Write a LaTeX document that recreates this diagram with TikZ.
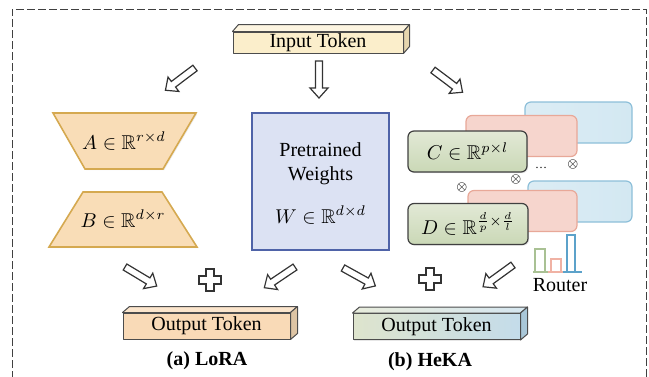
\documentclass[tikz,border=0pt]{standalone}
\usepackage{amsmath}
\usepackage{amssymb}
\usepackage{fontspec}
\setmainfont{Liberation Serif}
\usepackage{tikz}
\usetikzlibrary{calc, shadows}

\definecolor{tokCream}{HTML}{FBEECB}
\definecolor{tokCreamTop}{HTML}{FDF5E1}
\definecolor{tokCreamSide}{HTML}{E6D6AE}
\definecolor{tokPeach}{HTML}{F9DAB7}
\definecolor{tokPeachTop}{HTML}{FBE5CC}
\definecolor{tokPeachSide}{HTML}{DDC4A4}
\definecolor{mixGreen}{HTML}{DEE4CD}
\definecolor{mixPink}{HTML}{F4E1DA}
\definecolor{mixBlue}{HTML}{C4DCEA}
\definecolor{mixSide}{HTML}{A9C7D8}
\definecolor{loraFill}{HTML}{F9DDB7}
\definecolor{loraEdge}{HTML}{D5A950}
\definecolor{wFill}{HTML}{DCE2F3}
\definecolor{wEdge}{HTML}{4F63A8}
\definecolor{cardGreenT}{HTML}{E2E9D6}
\definecolor{cardGreenB}{HTML}{CAD8B6}
\definecolor{cardRed}{HTML}{F6D5CD}
\definecolor{cardRedD}{HTML}{E8A898}
\definecolor{cardBlue}{HTML}{D3E8F2}
\definecolor{cardBlueD}{HTML}{8DBFD9}
\definecolor{barGreen}{HTML}{A9C194}
\definecolor{barPink}{HTML}{F0B2A4}
\definecolor{barBlue}{HTML}{5CA2CA}

\newcommand{\slabFaces}[4]{%
  \draw[tokEdge, #3] (#1.north west) -- ++(#2) -- ($(#1.north east)+(#2)$) -- (#1.north east) -- cycle;
  \draw[tokEdge, #4] (#1.north east) -- ++(#2) -- ($(#1.south east)+(#2)$) -- (#1.south east) -- cycle;}

\tikzset{
  tokEdge/.style={draw=black!70, line width=0.5pt, line join=round},
  tokFront/.style={tokEdge, inner sep=0pt, drop shadow={opacity=0.2, shadow xshift=0.6pt, shadow yshift=-0.6pt}},
  card/.style={draw, rounded corners=3pt, minimum height=20.5pt, inner sep=0pt, line width=0.6pt},
  greenCard/.style={card, draw=black!75, top color=cardGreenT, bottom color=cardGreenB, drop shadow={opacity=0.2, shadow xshift=0.6pt, shadow yshift=-0.6pt}},
  redCard/.style={card, draw=cardRedD, fill=cardRed},
  blueCard/.style={card, draw=cardBlueD, left color=cardBlue!80!white, right color=cardBlue},
  loraShape/.style={draw=loraEdge, fill=loraFill, line width=0.8pt, line join=miter, drop shadow={opacity=0.15, shadow xshift=0.6pt, shadow yshift=-0.6pt}},
  arrowLine/.style={draw=black!80, fill=white, line width=0.6pt, line join=miter},
  prodSym/.style={inner sep=0pt, font=\fontsize{6}{7}\selectfont},
  hollowArrow/.pic={\draw[arrowLine] (0,-3.5) -- (27,-3.5) -- (27,-9) -- (37,0) -- (27,9) -- (27,3.5) -- (0,3.5) -- cycle;},
  plusSign/.pic={\draw[arrowLine] (-4,-11) -- (4,-11) -- (4,-4) -- (11,-4) -- (11,4) -- (4,4) -- (4,11) -- (-4,11) -- (-4,4) -- (-11,4) -- (-11,-4) -- (-4,-4) -- cycle;},
}

\begin{document}
\begin{tikzpicture}[x=0.5pt, y=-0.5pt]
\useasboundingbox (0,0) rectangle (649,376);
\draw[black!75, line width=0.5pt, dash pattern=on 4pt off 1.5pt] (12,390) -- (12,9) -- (646,9) -- (646,390);

\node[tokFront, fill=tokCream, minimum width=85pt, minimum height=10.5pt] (inTok) at (318,42.5) {Input Token};
\slabFaces{inTok}{6,-7}{fill=tokCreamTop}{fill=tokCreamSide}

\pic[rotate=217] at (195,68) {hollowArrow};
\pic[rotate=-90] at (319,61) {hollowArrow};
\pic[rotate=-37] at (433,70) {hollowArrow};

\draw[loraShape] (53,113) -- (196,113) -- (163,169) -- (85,169) -- cycle;
\node (matA) at (124,141) {$A \in \mathbb{R}^{r \times d}$};
\draw[loraShape] (83,192) -- (162,192) -- (197,247) -- (49,247) -- cycle;
\node (matB) at (123,219) {$B \in \mathbb{R}^{d \times r}$};

\node[draw=wEdge, fill=wFill, line width=0.7pt, minimum width=68.5pt, minimum height=68.5pt, drop shadow={opacity=0.2, shadow xshift=0.6pt, shadow yshift=-0.6pt}] (wBox) at (320.5,181.5) {};
\node[align=center] (wLab) at (320.5,164) {Pretrained\\Weights};
\node (matW) at (320.5,215) {$W \in \mathbb{R}^{d \times d}$};

\node[blueCard, minimum width=53.5pt] (blueC) at (578.5,122.5) {};
\node[redCard, minimum width=55.5pt] (redC) at (521.5,136) {};
\node[greenCard, minimum width=59.5pt] (matC) at (467.5,151.5) {$C \in \mathbb{R}^{p \times l}$};
\node[blueCard, minimum width=52pt] (blueD) at (580,201.5) {};
\node[redCard, minimum width=54.5pt] (redD) at (522.5,211) {};
\node[greenCard, minimum width=60pt] (matD) at (468,224) {$D \in \mathbb{R}^{\frac{d}{p} \times \frac{d}{l}}$};

\node[prodSym] (prodA) at (573,164) {$\otimes$};
\node[prodSym] (prodB) at (516,179) {$\otimes$};
\node[prodSym] (prodC) at (462,187) {$\otimes$};
\node[prodSym] (moreDots) at (541,168) {\ldots};

\foreach \c/\xa/\xb/\ya/\ba/\bb in {barGreen/535/545/249/533/548, barPink/551/561/259/548/563, barBlue/567/575/235/563/582}{
  \draw[\c, line width=0.7pt] (\ba,272) -- (\bb,272);
  \draw[\c, line width=0.7pt] (\xa,272) -- (\xa,\ya) -- (\xb,\ya) -- (\xb,272);
}
\node (router) at (560,285) {Router};

\pic[rotate=-31] at (125,267) {hollowArrow};
\pic at (210,280) {plusSign};
\pic[rotate=214] at (295,267) {hollowArrow};
\pic[rotate=-29] at (343,268) {hollowArrow};
\pic at (430,279) {plusSign};
\pic[rotate=216] at (513,265) {hollowArrow};

\node[tokFront, fill=tokPeach, minimum width=83.5pt, minimum height=13pt] (outTokA) at (206.5,326) {Output Token};
\slabFaces{outTokA}{7,-6}{fill=tokPeachTop}{fill=tokPeachSide}
\node[tokFront, left color=mixGreen, middle color=mixPink, right color=mixBlue, minimum width=83.5pt, minimum height=13pt] (outTokB) at (436.5,326.5) {Output Token};
\slabFaces{outTokB}{7,-6}{left color=mixGreen!70!white, right color=mixBlue!70!white}{fill=mixSide}

\node[font=\bfseries] (capA) at (207,361) {(a) LoRA};
\node[font=\bfseries] (capB) at (430,362) {(b) HeKA};
\end{tikzpicture}
\end{document}
